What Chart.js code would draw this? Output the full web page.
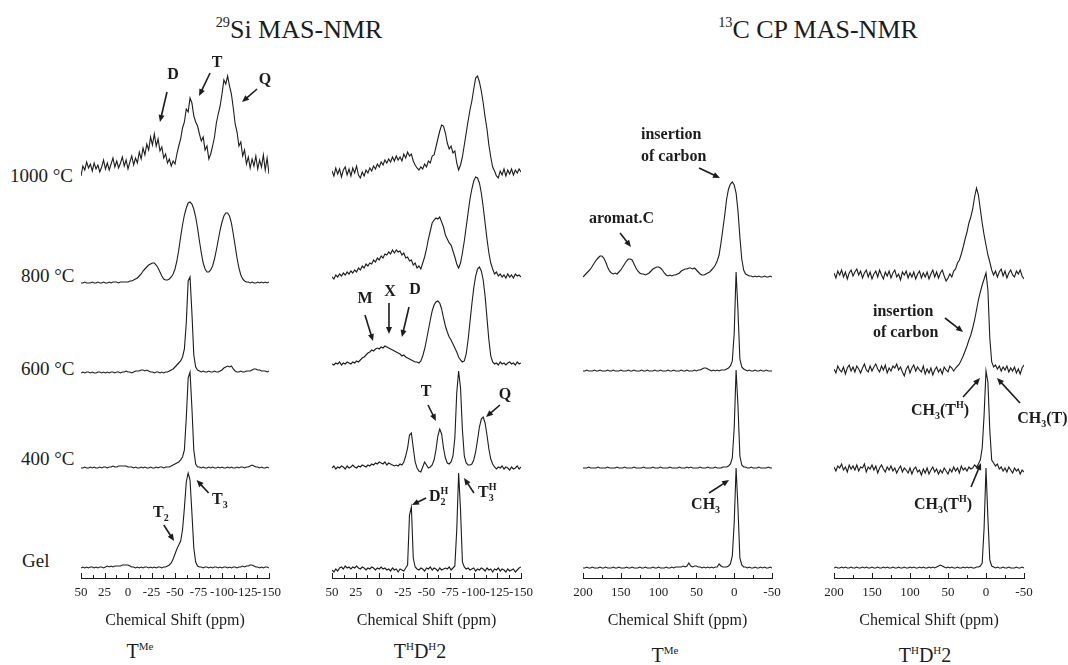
<!DOCTYPE html>
<html>
<head>
<meta charset="utf-8">
<script src="https://cdn.jsdelivr.net/npm/chart.js@4.4.1/dist/chart.umd.min.js"></script>
<style>
  html, body { margin: 0; padding: 0; background: #fff; }
  #page { position: relative; width: 1068px; height: 665px; overflow: hidden;
          font-family: "Liberation Serif", "Times New Roman", serif; color: #1c1c1c; }
  #page canvas { position: absolute; top: 48px; }
  .txt { position: absolute; white-space: nowrap; line-height: 1; }
  .mid { transform: translate(-50%, -50%); }
  .row { font-size: 19px; transform: translateY(-50%); }
  .title { font-size: 26px; }
  .foot { font-size: 20px; }
  .up { font-size: 0.55em; position: relative; top: -0.75em; }
</style>
</head>
<body>
<div id="page">
  <div class="txt title mid" style="left:299px; top:30px;"><span class="up">29</span>Si MAS-NMR</div>
  <div class="txt title mid" style="left:818px; top:30px;"><span class="up">13</span>C CP MAS-NMR</div>

  <div class="txt row" style="left:10px; top:175px;">1000 °C</div>
  <div class="txt row" style="left:21px; top:275px;">800 °C</div>
  <div class="txt row" style="left:21px; top:368px;">600 °C</div>
  <div class="txt row" style="left:21px; top:458px;">400 °C</div>
  <div class="txt row" style="left:22px; top:560px;">Gel</div>

  <div class="txt foot mid" style="left:140px; top:651px;">T<span class="up">Me</span></div>
  <div class="txt foot mid" style="left:420px; top:651px;">T<span class="up">H</span>D<span class="up">H</span>2</div>
  <div class="txt foot mid" style="left:665px; top:655px;">T<span class="up">Me</span></div>
  <div class="txt foot mid" style="left:925px; top:655px;">T<span class="up">H</span>D<span class="up">H</span>2</div>

  <canvas id="siTme" width="248" height="617" style="left:51px;"></canvas>
  <canvas id="siThd" width="249" height="617" style="left:302px;"></canvas>
  <canvas id="cTme" width="249" height="617" style="left:553px;"></canvas>
  <canvas id="cThd" width="264" height="617" style="left:804px;"></canvas>
</div>

<script>
const INK = '#1c1c1c';
const SERIF = '"Liberation Serif", "Times New Roman", serif';

// ---------- sampling of the shift axis ----------
const SI_FROM = 50, SI_STEP = -2;      // 50 ... -150 ppm
const C_FROM = 200, C_STEP = -2.5;     // 200 ... -50 ppm

// ---------- 29Si, T^Me (Gel, 400, 600, 800, 1000 °C) ----------
const SI_TME_GEL = [
  0,1,0,1,0,1,1,0,1,0,  1,1,0,1,2,1,2,1,2,2,  2,2,3,3,3,3,2,1,1,0,  1,0,1,0,1,1,0,1,0,1,
  0,1,1,0,1,1,2,3,5,9,  14,19,23,27,38,60,86,95,88,55,  20,6,2,1,1,0,1,1,0,1,
  0,1,1,0,1,0,1,1,0,1,  0,1,1,0,1,1,2,1,2,2,  3,3,2,1,1,0,1,0,1,1,  0];
const SI_TME_400 = [
  0,0,1,0,0,1,0,1,0,0,  1,0,1,1,0,1,1,2,1,1,  2,2,2,2,2,1,1,1,0,1,  0,0,1,0,1,0,0,1,0,0,
  1,0,1,1,0,1,1,1,2,3,  4,5,6,8,11,18,50,90,96,60,  18,4,1,1,0,1,0,0,1,0,
  1,0,0,1,0,1,0,0,1,0,  1,0,0,1,0,1,1,0,1,1,  2,3,2,1,1,0,1,0,0,1,  0];
const SI_TME_600 = [
  0,1,0,1,1,0,1,0,0,1,  1,0,1,0,1,0,1,1,0,1,  1,0,1,1,2,1,1,0,1,2,  2,2,3,3,2,3,2,1,1,0,
  1,1,0,1,0,1,1,2,3,4,  6,8,10,12,16,24,50,92,96,60,  18,6,3,2,1,2,1,1,2,1,
  1,2,1,1,2,3,5,6,7,6,  7,4,2,1,1,2,1,1,2,2,  2,3,4,4,3,3,2,2,2,1,  2];
const SI_TME_800 = [
  0,0,1,0,0,0,1,0,0,1,  0,0,1,0,0,1,0,1,1,1,  0,1,1,1,1,1,2,2,3,4,  5,7,9,12,14,16,18,19,20,20,
  18,15,11,7,4,3,3,4,6,9,  14,22,33,46,58,68,75,80,81,79,  74,66,55,42,30,20,14,11,11,13,
  17,24,33,43,53,61,67,70,70,67,  60,49,37,25,15,8,4,2,1,1,  0,1,0,0,1,0,1,0,1,0,  1];
const SI_TME_1000 = [
  -4,6,2,10,4,8,1,9,3,7,  0,5,12,3,9,2,8,14,5,11,  4,9,15,6,12,3,10,16,7,14,
  9,20,13,24,17,28,22,35,27,38,  26,33,21,25,14,18,9,13,6,11,  8,18,26,33,44,50,63,60,74,69,
  56,50,46,38,31,35,22,26,13,18,  26,35,49,58,66,78,92,88,96,86,  78,64,48,40,26,30,16,22,8,15,
  4,13,6,16,3,12,5,17,2,14,  -2];

// ---------- 29Si, T^H D^H 2 ----------
const SI_THD_GEL = [
  0,-2,1,-1,2,3,1,4,2,3,  1,3,2,4,2,1,3,2,0,2,  1,3,2,0,2,1,3,1,2,0,  1,-1,2,0,1,-2,1,0,-1,2,
  5,55,63,12,3,1,0,2,1,-1,  2,1,3,0,2,1,-1,2,0,1,  2,1,3,0,2,4,40,97,60,8,
  3,1,2,0,1,2,-1,1,0,2,  1,-1,2,0,1,-2,1,0,2,-1,  1,0,-2,1,-1,0,1,-2,0,2,  3];
const SI_THD_400 = [
  0,2,-1,1,0,2,1,-1,2,0,  1,3,1,0,2,1,3,2,1,3,  2,4,3,5,4,6,5,4,6,3,  5,4,3,2,3,2,4,3,6,12,
  20,33,35,20,6,0,-3,-4,1,6,  3,0,1,3,8,18,32,39,34,20,  10,5,4,6,12,30,75,97,80,38,
  12,5,3,3,4,8,16,28,41,49,  51,45,33,19,9,4,1,-1,1,0,  2,-1,1,0,-2,1,-1,0,2,-1,  1];
const SI_THD_600 = [
  0,-1,1,0,2,-1,1,0,2,1,  0,2,1,3,2,4,6,7,9,11,  12,14,13,15,16,15,17,16,18,17,  16,15,14,13,12,11,10,8,9,7,
  6,5,4,3,2,2,1,3,8,15,  24,34,44,53,59,62,63,61,55,46,  38,32,27,24,20,16,12,7,4,2,
  3,10,24,42,60,76,88,95,97,93,  84,68,46,24,8,2,0,1,-1,2,  0,1,-1,1,2,0,1,-1,2,0,  1];
const SI_THD_800 = [
  0,-2,2,0,3,1,4,2,5,3,  6,4,7,5,9,7,11,9,13,11,  14,13,17,15,19,17,21,19,23,22,  25,23,27,24,27,25,26,22,24,19,
  20,16,17,12,14,9,11,8,14,20,  28,38,46,54,57,59,58,60,55,50,  42,38,34,32,26,20,13,9,14,24,
  36,50,64,78,88,96,100,99,94,84,  70,54,38,24,14,8,3,5,1,3,  0,2,-1,3,0,2,-1,3,1,2,  0];
const SI_THD_1000 = [
  2,-3,5,-1,4,-4,3,6,-2,4,  -3,5,0,7,-2,-5,1,-3,3,0,  5,2,7,4,9,6,11,8,13,10,  14,11,16,12,17,13,16,12,19,15,
  21,17,19,12,8,5,3,6,4,9,  6,12,10,17,18,26,34,42,48,47,  40,30,24,27,20,22,10,3,8,16,
  28,40,52,63,72,84,95,97,91,82,  70,56,44,28,16,6,2,-3,-5,2,  -2,4,-3,3,-1,4,-2,3,0,4,  1];

// ---------- 13C CP, T^Me (Gel, 400, 600, 800 °C) ----------
const C_TME_GEL = [
  0,0,1,0,0,1,0,0,0,1,  0,0,1,0,0,0,1,0,0,1,  0,0,0,1,0,0,1,0,0,0,  1,0,0,1,0,0,0,1,0,0,
  1,0,0,0,1,0,0,1,0,1,  1,1,1,2,1,2,5,2,1,2,  2,1,1,0,1,0,1,0,1,0,
  1,1,4,2,1,1,1,2,4,12,  45,100,60,10,3,1,1,0,1,0,  0,1,0,0,1,0,1,0,0,1,  0];
const C_TME_400 = [
  0,0,0,1,0,0,0,0,1,0,  0,0,0,1,0,0,0,0,1,0,  0,0,1,0,0,0,0,1,0,0,  0,0,1,0,0,0,0,1,0,0,
  0,1,0,0,0,0,1,0,0,0,  0,1,0,0,0,1,0,1,0,0,  0,0,1,0,0,0,1,0,0,0,
  1,0,0,0,1,1,1,2,4,10,  40,98,62,12,3,1,1,0,0,1,  0,0,0,1,0,0,0,0,1,0,  0];
const C_TME_600 = [
  0,0,1,0,0,0,1,0,0,1,  0,0,0,1,0,0,1,0,0,0,  1,0,0,0,1,0,0,1,0,0,  0,1,0,0,1,0,0,0,1,0,
  0,1,0,0,0,1,0,0,1,0,  0,0,1,0,0,1,0,0,0,1,  0,1,1,2,3,3,2,1,0,1,
  0,1,0,1,1,1,2,3,5,10,  38,99,60,12,4,2,1,0,1,0,  0,1,0,0,1,0,0,1,0,0,  0];
const C_TME_800 = [
  0,2,4,6,8,11,14,17,19,21,  21,19,15,10,6,4,3,4,3,5,  7,10,13,16,18,18,17,13,9,6,  4,3,3,2,3,4,6,8,9,10,
  10,9,7,4,2,1,2,1,2,2,  3,4,6,7,8,8,9,9,8,9,  7,5,3,2,2,3,4,5,7,9,
  12,16,22,34,48,62,78,88,93,95,  92,84,66,40,18,7,3,2,1,1,  0,1,0,1,0,0,1,0,0,1,  0];

// ---------- 13C CP, T^H D^H 2 ----------
const C_THD_GEL = [
  0,1,0,0,1,0,1,0,0,1,  0,0,1,0,0,1,0,1,0,0,  1,0,0,1,0,0,1,0,1,0,  0,1,0,0,1,0,0,1,0,0,
  1,0,1,0,0,1,0,1,0,0,  1,0,1,0,1,2,3,2,1,0,  1,0,1,0,0,1,0,0,1,0,
  1,0,1,0,0,1,1,2,5,40,  100,50,8,2,1,0,1,0,0,1,  0,0,1,0,0,0,1,0,0,1,  0];
const C_THD_400 = [
  3,-1,4,2,6,0,3,-2,5,1,  4,0,5,-1,3,2,6,-2,3,1,  5,0,4,-3,2,5,1,-2,3,0,  4,-1,2,-3,1,4,-2,2,0,-3,
  2,-4,1,3,-2,0,-5,1,-3,2,  -4,0,3,-2,1,-4,0,-3,2,-1,  -4,1,-2,3,-1,2,-3,4,0,2,
  -1,3,1,2,5,3,6,10,22,55,  99,88,40,10,7,4,6,1,3,-1,  2,-2,3,0,-3,2,-1,1,-4,0,  -2];
const C_THD_600 = [
  1,-3,4,0,-2,3,-4,2,5,-1,  3,-2,4,1,-3,2,6,0,-2,4,  -1,3,6,1,-2,4,0,5,-3,2,  -1,4,2,6,0,3,-2,-6,1,4,
  -3,2,5,-1,3,0,-2,4,-4,1,  -3,2,-5,0,3,-2,1,-4,3,0,  -2,4,2,-1,2,4,6,10,14,19,
  24,30,35,42,50,60,70,78,85,91,  97,80,32,8,3,5,1,4,-1,3,  0,4,-2,2,-1,3,-3,1,-4,2,  5];
const C_THD_800 = [
  2,-3,4,0,5,-2,3,-4,2,5,  -1,3,6,0,4,-3,2,5,-2,3,  -4,1,4,-2,5,0,-4,3,-1,4,  -3,2,5,-2,1,-5,3,0,4,-3,
  2,-2,3,-4,1,4,-3,2,-2,3,  -4,1,5,-2,3,-3,2,5,-1,-6,  -3,1,-2,4,6,12,15,21,28,36,
  43,52,58,66,78,87,80,66,52,40,  30,20,13,5,0,4,-2,3,6,-1,  4,-3,2,5,0,-2,4,1,5,-1,  -4];

// ---------- tick labels ----------
const SI_TICKS = { min: -150, max: 50, step: 25 };
const C_TICKS = { min: -50, max: 200, step: 50 };

// baseline of each trace above the axis, bottom row first
const SI_TME_LIFT = [10, 110, 205, 295, 406];
const SI_THD_LIFT = [8, 110, 214, 301, 405];
const C_TME_LIFT = [10, 110, 207, 301];
const C_THD_LIFT = [10, 108, 208, 303];

function traces(series, lifts, from, step) {
  return series.map((vals, r) => ({
    data: vals.map((v, i) => ({ x: from + i * step, y: lifts[r] + v })),
    borderColor: INK,
    borderWidth: 1.1,
    pointRadius: 0,
    tension: 0,
    fill: false
  }));
}

// inward major/minor tick marks on the shift axis
const axisMarks = {
  id: 'axisMarks',
  afterDraw(chart, args, opts) {
    const { ctx, chartArea, scales: { x } } = chart;
    const half = opts.step / 2;
    ctx.save();
    ctx.strokeStyle = INK;
    ctx.lineWidth = 1;
    for (let k = 0, v = x.min; v <= x.max + 1e-6; k++, v = x.min + k * half) {
      const px = Math.round(x.getPixelForValue(v)) + 0.5;
      ctx.beginPath();
      ctx.moveTo(px, chartArea.bottom);
      ctx.lineTo(px, chartArea.bottom - (k % 2 === 0 ? 5 : 3));
      ctx.stroke();
    }
    ctx.restore();
  }
};

function drawArrow(ctx, x1, y1, x2, y2) {
  const a = Math.atan2(y2 - y1, x2 - x1), L = 7, W = 3;
  ctx.beginPath();
  ctx.moveTo(x1, y1);
  ctx.lineTo(x2 - Math.cos(a) * L * 0.8, y2 - Math.sin(a) * L * 0.8);
  ctx.stroke();
  ctx.beginPath();
  ctx.moveTo(x2, y2);
  ctx.lineTo(x2 - L * Math.cos(a) + W * Math.sin(a), y2 - L * Math.sin(a) - W * Math.cos(a));
  ctx.lineTo(x2 - L * Math.cos(a) - W * Math.sin(a), y2 - L * Math.sin(a) + W * Math.cos(a));
  ctx.closePath();
  ctx.fill();
}

// bold label with optional sup / sub / sub-under-sup pieces
function drawRich(ctx, parts, px, py, align) {
  const size = 16, small = 10;
  let cx = 0, supX = 0;
  const laid = parts.map(([text, kind]) => {
    const fs = kind ? small : size;
    ctx.font = `bold ${fs}px ${SERIF}`;
    const w = ctx.measureText(text).width;
    let x = cx;
    if (kind === 'under') { x = supX; cx = Math.max(cx, supX + w); }
    else { if (kind === 'sup') supX = cx; cx += w; }
    const dy = kind === 'sup' ? -6 : (kind === 'sub' || kind === 'under') ? 5 : 0;
    return { text, fs, x, dy };
  });
  const x0 = align === 'center' ? px - cx / 2 : px;
  ctx.textBaseline = 'middle';
  ctx.textAlign = 'left';
  laid.forEach(p => {
    ctx.font = `bold ${p.fs}px ${SERIF}`;
    ctx.fillText(p.text, x0 + p.x, py + p.dy);
  });
}

const callouts = {
  id: 'callouts',
  afterDraw(chart, args, opts) {
    const { ctx, scales: { x, y } } = chart;
    ctx.save();
    ctx.strokeStyle = INK;
    ctx.fillStyle = INK;
    ctx.lineWidth = 1.6;
    (opts.arrows || []).forEach(([a, b, c, d]) =>
      drawArrow(ctx, x.getPixelForValue(a), y.getPixelForValue(b), x.getPixelForValue(c), y.getPixelForValue(d)));
    (opts.labels || []).forEach(l =>
      drawRich(ctx, l.t, x.getPixelForValue(l.x), y.getPixelForValue(l.y), l.align));
    ctx.restore();
  }
};

function makePanel(id, datasets, ticks, pad, notes) {
  return new Chart(document.getElementById(id), {
    type: 'line',
    data: { datasets },
    options: {
      responsive: false,
      animation: false,
      events: [],
      devicePixelRatio: 1,
      layout: { padding: { left: pad[0], right: pad[1], top: 10, bottom: 35 } },
      plugins: {
        legend: { display: false },
        tooltip: { enabled: false },
        axisMarks: { step: ticks.step },
        callouts: notes
      },
      scales: {
        x: {
          type: 'linear',
          reverse: true,
          min: ticks.min,
          max: ticks.max,
          grid: { display: false, drawTicks: false },
          border: { display: true, color: INK, width: 1 },
          ticks: {
            stepSize: ticks.step,
            autoSkip: false,
            maxRotation: 0,
            minRotation: 0,
            padding: 7,
            color: INK,
            font: { family: SERIF, size: 13 }
          },
          title: {
            display: true,
            text: 'Chemical Shift (ppm)',
            color: INK,
            font: { family: SERIF, size: 16 },
            padding: { top: 0, bottom: 0 }
          },
          afterFit(scale) { scale.height = 52; }
        },
        y: { display: false, min: 0, max: 520 }
      }
    },
    plugins: [axisMarks, callouts]
  });
}

makePanel('siTme',
  traces([SI_TME_GEL, SI_TME_400, SI_TME_600, SI_TME_800, SI_TME_1000], SI_TME_LIFT, SI_FROM, SI_STEP),
  SI_TICKS, [30, 30], {
    labels: [
      { x: -47.9, y: 503, t: [['D']], align: 'center' },
      { x: -94.7, y: 515, t: [['T']], align: 'center' },
      { x: -145.8, y: 498, t: [['Q']], align: 'center' },
      { x: -89.4, y: 78, t: [['T'], ['3', 'sub']] },
      { x: -26.6, y: 65, t: [['T'], ['2', 'sub']] }
    ],
    arrows: [
      [-41.5, 486, -34, 456], [-87.3, 505, -75.6, 482], [-137.3, 489, -121.3, 476],
      [-85.8, 85, -73, 98], [-38.1, 53, -49, 37]
    ]
  });

makePanel('siThd',
  traces([SI_THD_GEL, SI_THD_400, SI_THD_600, SI_THD_800, SI_THD_1000], SI_THD_LIFT, SI_FROM, SI_STEP),
  SI_TICKS, [30, 30], {
    labels: [
      { x: 15.1, y: 279, t: [['M']], align: 'center' },
      { x: -11.4, y: 286, t: [['X']], align: 'center' },
      { x: -37.8, y: 288, t: [['D']], align: 'center' },
      { x: -49.5, y: 186, t: [['T']], align: 'center' },
      { x: -133, y: 183, t: [['Q']], align: 'center' },
      { x: -52.6, y: 81, t: [['D'], ['H', 'sup'], ['2', 'under']] },
      { x: -104.5, y: 85, t: [['T'], ['H', 'sup'], ['3', 'under']] }
    ],
    arrows: [
      [15.1, 263, 6.6, 237], [-10.3, 275, -10.3, 244], [-31.5, 271, -24, 241],
      [-51.6, 173, -60, 157], [-127.7, 173, -113, 161],
      [-49.5, 80, -34.6, 73], [-100.2, 85, -89.7, 100]
    ]
  });

makePanel('cTme',
  traces([C_TME_GEL, C_TME_400, C_TME_600, C_TME_800], C_TME_LIFT, C_FROM, C_STEP),
  C_TICKS, [30, 30], {
    labels: [
      { x: 123.3, y: 443, t: [['insertion']] },
      { x: 123.3, y: 421, t: [['of carbon']] },
      { x: 192, y: 359, t: [['aromat.C']] },
      { x: 57, y: 73, t: [['CH'], ['3', 'sub']] }
    ],
    arrows: [[46.5, 410, 18.8, 400], [151, 345, 136.5, 331], [33.3, 85, 6.8, 98]]
  });

makePanel('cThd',
  traces([C_THD_GEL, C_THD_400, C_THD_600, C_THD_800], C_THD_LIFT, C_FROM, C_STEP),
  C_TICKS, [30, 44], {
    labels: [
      { x: 148.7, y: 266, t: [['insertion']] },
      { x: 148.7, y: 245, t: [['of carbon']] },
      { x: 98.7, y: 167, t: [['CH'], ['3', 'sub'], ['(T'], ['H', 'sup'], [')']] },
      { x: -41, y: 159, t: [['CH'], ['3', 'sub'], ['(T)']] },
      { x: 94.7, y: 73, t: [['CH'], ['3', 'sub'], ['(T'], ['H', 'sup'], [')']] }
    ],
    arrows: [[54, 260, 30.2, 246], [30.2, 181, 7.9, 200], [-44.8, 175, -14.5, 200], [19.7, 91, 6.5, 115]]
  });
</script>
</body>
</html>
